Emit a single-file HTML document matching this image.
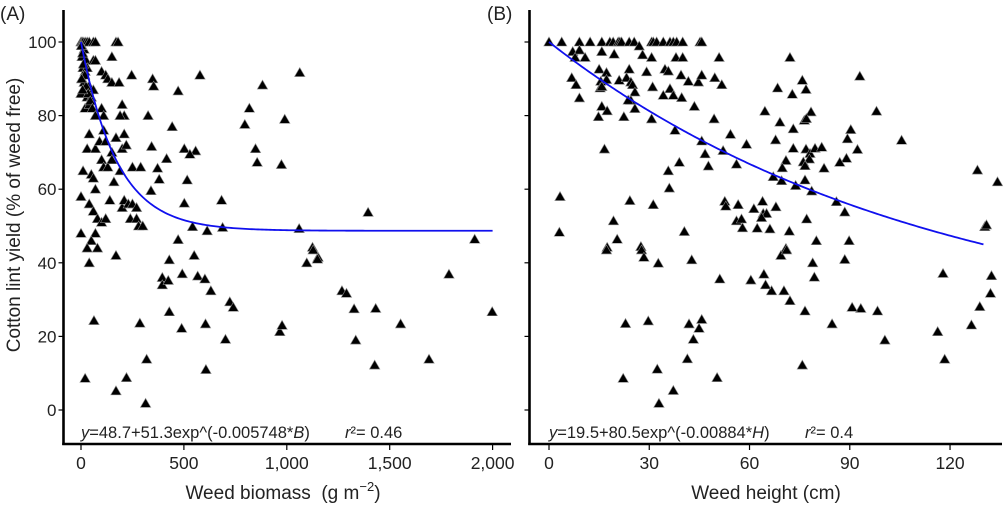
<!DOCTYPE html>
<html><head><meta charset="utf-8">
<style>
html,body{margin:0;padding:0;background:#fff;}
svg{display:block;font-family:"Liberation Sans",Arial,sans-serif;}
</style></head>
<body>
<svg id="chart" width="1004" height="506" viewBox="0 0 1004 506"></svg>
<script>
// ---- data ----
const yTicks = [0,20,40,60,80,100];
const xTicksA = [0,500,1000,1500,2000];
const xTickLabelsA = ["0","500","1,000","1,500","2,000"];
const xTicksB = [0,30,60,90,120];
const xTickLabelsB = ["0","30","60","90","120"];
const fitA = {a:48.7,b:51.3,k:0.005748,max:2000};
const fitB = {a:19.5,b:80.5,k:0.00884,max:130};
const biomassA = [0,5,10,20,30,40,60,70,15,5,25,60,70,10,20,30,5,15,40,60,10,30,50,0,20,40,2,8,12,18,25,35,45,55,3,8,
170,180,150,100,120,130,150,185,246,578,348,353,472,882,818,990,796,443,326,1063,200,210,190,100,110,70,
848,856,974,343,502,557,529,416,372,380,516,340,683,502,542,613,688,1060,1395,1913,472,1125,1152,
40,30,50,10,0,40,70,90,110,120,150,170,200,210,220,100,110,130,150,190,160,250,290,140,200,210,230,250,240,270,270,280,300,60,70,60,80,100,120,0,70,50,30,80,170,40,
429,550,395,395,424,492,567,602,631,723,740,429,489,605,607,702,63,286,319,221,170,314,20,1097,1149,1128,1268,1290,966,977,1327,1335,1432,1427,1553,1691,1788,1998];
const yieldA = [100,100,100,100,100,100,100,100,98,96,95,95,95,93,92,93,90,89,88,87,86,85,85,86,82,83,99,97,94,91,88,86,84,82,90,87,
100,100,96,92,91,90,89,89,91,91,90,88,86.7,88.3,82,79,77.6,77,80,91.7,83,80,80,82,80,80,
71,67.3,66.7,71.6,71,70.4,69.5,68.3,65.7,62.7,62.5,59.6,57,56.2,49.8,48.7,49.6,49.3,53.7,46.4,46.3,44.2,41.5,
75,71,64,65,58,56,71,73,76,73,70,74,71,75,72,68,66,66,68,65,62,66,66,57,55,57,56,56,52,55,52,50,50,63,60,54,52,51,52,48,48,46,44,44,42,40,
40.8,42,36,34,35.2,37,36.4,35.6,32.4,29.4,27.9,26.7,22.2,23.4,11,19.2,24.3,23.6,13.8,8.8,5.2,1.8,8.6,40,41,43.5,32.4,31.7,21.3,23,27.5,19,27.6,12.2,23.4,13.8,36.9,26.7];
const heightB = [0,3.8,9.1,12.3,15.8,18.2,19.2,20.7,21.2,21.7,24,25.5,30.7,31.2,32.2,34.2,36.2,37.2,38.2,40,45.2,45.7,
7.1,9.1,7.8,10.8,15.8,19.5,27,28,30.7,38,40,50.9,72.1,15,17.2,24,29.2,34.7,35.7,6.8,8.1,9.1,15.5,17.2,15.3,15.8,21,23.2,24.5,25,31,36.2,34.2,37.2,39.7,39.5,41.7,44.7,45.7,49.6,51.7,93,68.4,75.8,76.9,72.8,25.7,24.5,23.7,25.7,15.8,17.4,14.8,22.4,30.7,43.5,49.4,64.6,78.4,76.4,77,98,69.1,73.1,90.3,89.3,105.5,37.7,45.7,54.3,59.1,67.8,16.6,52.1,46.7,47.7,73.1,76.9,78.1,79.6,81.6,77.9,76.1,76.6,70.9,69.8,89,87,92.3,82.3,56.1,39,35.7,36,67.1,69.6,73.8,76.6,78.6,86,88.5,128.2,134.2,3.3,24.2,31.2,52.6,52.9,56.6,63.9,61.3,64.1,65.1,67.9,63.6,56.1,57.6,57.9,62.3,66.1,77.1,71.9,19.3,3.1,40.5,20.4,17.4,27.5,80,89.8,70.9,130.4,130.9,
17.2,27.7,28.4,32.7,42.7,69.4,71.1,78.9,88.5,117.9,132.4,132.1,128.9,126.4,116.3,118.4,100.5,98.3,93.3,90.7,84.7,76.6,75.8,72.1,70.3,66.6,64.8,64.3,79.4,60.4,51.1,45.7,44.9,41.9,43.2,41.4,29.7,22.9,22.2,32.4,37.2,32.9,50.3];
const yieldB = [100,100,100,100,100,100,100,100,100,100,100,100,100,100,100,100,100,100,100,100,100,100,
97.4,97.8,95.8,95.8,97.4,96.7,98.9,96.5,95.8,95.8,95.8,95.8,95.8,92.6,91.7,92.6,91.9,92.6,92.1,90.3,88.4,84.8,89.3,89.8,87.5,87.9,89.6,90.3,89.1,88.4,87.8,87.3,85.5,85.5,84.9,91,89.3,89.1,91,90.3,88.4,90.7,87.5,89.6,87.1,85.8,86.4,84.1,84.2,81.9,82.5,81.3,79.7,79.7,79.1,82.5,79.1,81.2,81,78.7,79.2,81.2,78.2,76.4,76.2,73.7,73.3,76,73.1,74.9,72.2,73.4,70.9,70.5,69.6,66.3,71.1,70.9,69.7,71.1,71.4,68.2,67.4,66.4,67.8,65.8,68.4,67.3,70.8,65.7,66.8,67.3,65,60.3,63.4,62.3,61,62.5,59.5,56.6,53.8,65.2,62,58,56.9,55.8,56.7,55.4,55.8,56.7,54.7,53.4,53.4,55.2,52.3,51.4,51.9,49.5,49.4,49.2,51.9,48.6,51.4,48.3,48.5,46.4,44.2,44.4,46,46,43.9,49.8,50.3,
43.5,43.5,41.5,39.9,40.8,42,43.5,40,40.9,37.1,36.5,31.7,28.1,23.1,21.3,13.8,19,26.9,27.6,27.9,23.4,26.9,12.2,29.7,32.4,32.4,34,36.9,36.1,35.3,35.6,24.6,22.2,23.4,19.2,13.9,24.2,23.5,8.6,11.1,5.3,1.8,8.8];

// ---- axes ----
const NS="http://www.w3.org/2000/svg";
const svg=document.getElementById('chart');
function mk(tag,attrs,parent){const e=document.createElementNS(NS,tag);for(const k in attrs)e.setAttribute(k,attrs[k]);(parent||svg).appendChild(e);return e;}
const yS=v=>410-v*3.68;
const xA=v=>81+v*0.2058;
const xB=v=>549+v*3.342;

function panel(id,axisX,axisEnd,xS,ticks,labels,xs,ys,fit,label,labelX){
  const g=mk('g',{});
  
  
  const ya=mk('line',{x1:axisX,y1:10,x2:axisX,y2:445,stroke:'#000','stroke-width':2.6},g);
  
  
  const xa=mk('line',{x1:axisX-1.3,y1:444,x2:axisEnd,y2:444,stroke:'#000','stroke-width':2.6},g);
  
  
  yTicks.forEach(t=>{
    const tk=mk('line',{x1:axisX-5,y1:yS(t),x2:axisX,y2:yS(t),stroke:'#000','stroke-width':1.2},g);
    
    
    if(id==='panel-a'){
      const tl=mk('text',{x:axisX-7,y:yS(t)+6,'text-anchor':'end','font-size':17,fill:'#222'},g);
      tl.textContent=t;
      
      
    }
  });
  ticks.forEach((t,i)=>{
    const tk=mk('line',{x1:xS(t),y1:445,x2:xS(t),y2:450,stroke:'#000','stroke-width':1.2},g);
    
    
    const tl=mk('text',{x:xS(t),y:469,'text-anchor':'middle','font-size':17.5,fill:'#222'},g);
    tl.textContent=labels[i];
    
    
  });
  xs.forEach((v,i)=>{
    const px=xS(v),py=yS(ys[i]);
    const p=mk('polygon',{points:`${px-5.2},${py+4} ${px+5.2},${py+4} ${px},${py-5}`,fill:'#000',stroke:'#888','stroke-width':0.6},g);
    
    
  });
  let d='';
  for(let i=0;i<=200;i++){const v=fit.max*i/200;const y=fit.a+fit.b*Math.exp(-fit.k*v);d+=(i?'L':'M')+xS(v).toFixed(2)+','+yS(y).toFixed(2);}
  const c=mk('path',{d:d,fill:'none',stroke:'#1010ee','stroke-width':1.8},g);
  
  
  const pl=mk('text',{x:labelX,y:20,'font-size':19,fill:'#222'},g);
  pl.textContent=label;
  
  
  return g;
}
panel('panel-a',63.5,511,xA,xTicksA,xTickLabelsA,biomassA,yieldA,fitA,'(A)',0);
panel('panel-b',529.5,1002,xB,xTicksB,xTickLabelsB,heightB,yieldB,fitB,'(B)',487);

svg.insertAdjacentHTML('beforeend',`
<text transform="translate(20,215) rotate(-90)" text-anchor="middle" font-size="19" fill="#222">Cotton lint yield (% of weed free)</text>
<text x="283" y="499" text-anchor="middle" font-size="19" fill="#222">Weed biomass&#160; (g m<tspan dy="-8" font-size="13">−2</tspan><tspan dy="8">)</tspan></text>
<text x="766" y="499" text-anchor="middle" font-size="19" fill="#222">Weed height (cm)</text>
<text x="81" y="438" font-size="16.5" fill="#222"><tspan font-style="italic">y</tspan>=48.7+51.3exp^(-0.005748*<tspan font-style="italic">B</tspan>)</text>
<text x="345" y="438" font-size="16.5" fill="#222"><tspan font-style="italic">r</tspan>²= 0.46</text>
<text x="549" y="438" font-size="16.5" fill="#222"><tspan font-style="italic">y</tspan>=19.5+80.5exp^(-0.00884*<tspan font-style="italic">H</tspan>)</text>
<text x="805" y="438" font-size="16.5" fill="#222"><tspan font-style="italic">r</tspan>²= 0.4</text>
`);
</script>
</body></html>
